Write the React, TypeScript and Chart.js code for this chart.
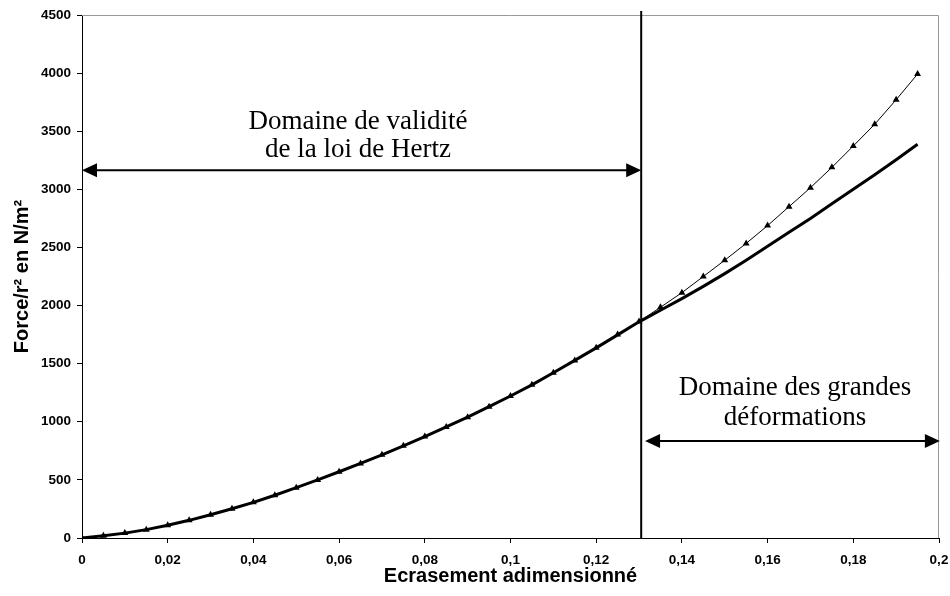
import React, { useEffect, useRef } from 'react';
import { Chart, registerables } from 'chart.js';

Chart.register(...registerables);

// Ecrasement adimensionné (x)
const ecrasement = [
  0, 0.005, 0.01, 0.015, 0.02, 0.025, 0.03, 0.035, 0.04, 0.045,
  0.05, 0.055, 0.06, 0.065, 0.07, 0.075, 0.08, 0.085, 0.09, 0.095,
  0.1, 0.105, 0.11, 0.115, 0.12, 0.125, 0.13, 0.135, 0.14, 0.145,
  0.15, 0.155, 0.16, 0.165, 0.17, 0.175, 0.18, 0.185, 0.19, 0.195,
];

// Série à triangles (loi de Hertz)
const forceHertz = [
  0, 20, 42, 72, 109, 152, 200, 252, 307, 368,
  433, 500, 570, 642, 716, 793, 873, 956, 1040, 1130,
  1222, 1318, 1422, 1528, 1636, 1750, 1862, 1985, 2111, 2250,
  2390, 2535, 2688, 2851, 3014, 3189, 3373, 3560, 3771, 3992,
];

// Série en trait épais (grandes déformations)
const forceGrandesDef = [
  0, 20, 42, 72, 109, 152, 200, 252, 307, 368,
  433, 500, 570, 642, 716, 793, 873, 956, 1040, 1130,
  1222, 1318, 1422, 1528, 1636, 1748, 1860, 1960, 2060, 2165,
  2275, 2390, 2510, 2630, 2750, 2875, 3000, 3125, 3255, 3388,
];

// Annotations (in data units)
const limiteX = 0.1305;
const flecheHertz = [0, 0.1305, 3165]; // x1, x2, y
const flecheGrandes = [0.1314, 0.2002, 835]; // x1, x2, y
const texteHertz = ['Domaine de validité', 'de la loi de Hertz'];
const texteHertzPos = [0.0644, 3579, 3338]; // x, y line1, y line2
const texteGrandes = ['Domaine des grandes', 'déformations'];
const texteGrandesPos = [0.1664, 1291, 1033];

const xTitle = 'Ecrasement adimensionné';
const yTitle = 'Force/r² en N/m²';

function drawArrow(ctx: CanvasRenderingContext2D, x1: number, x2: number, y: number) {
  const len = 15;
  const half = 7;
  ctx.beginPath();
  ctx.moveTo(x1 + len - 2, y);
  ctx.lineTo(x2 - len + 2, y);
  ctx.lineWidth = 2;
  ctx.strokeStyle = '#000';
  ctx.stroke();
  ctx.fillStyle = '#000';
  ctx.beginPath();
  ctx.moveTo(x1, y);
  ctx.lineTo(x1 + len, y - half);
  ctx.lineTo(x1 + len, y + half);
  ctx.closePath();
  ctx.fill();
  ctx.beginPath();
  ctx.moveTo(x2, y);
  ctx.lineTo(x2 - len, y - half);
  ctx.lineTo(x2 - len, y + half);
  ctx.closePath();
  ctx.fill();
}

const annotationPlugin = {
  id: 'annotations',
  beforeDatasetsDraw(chart: any) {
    const { ctx, chartArea } = chart;
    ctx.save();
    ctx.strokeStyle = '#999';
    ctx.lineWidth = 1;
    ctx.beginPath();
    ctx.moveTo(chartArea.left, chartArea.top + 0.5);
    ctx.lineTo(chartArea.right - 0.5, chartArea.top + 0.5);
    ctx.lineTo(chartArea.right - 0.5, chartArea.bottom);
    ctx.stroke();
    ctx.restore();
  },
  afterDatasetsDraw(chart: any) {
    const { ctx, chartArea, scales } = chart;
    const xs = scales.x;
    const ys = scales.y;
    ctx.save();
    const vx = xs.getPixelForValue(limiteX);
    ctx.beginPath();
    ctx.moveTo(vx, chartArea.top - 4);
    ctx.lineTo(vx, chartArea.bottom);
    ctx.lineWidth = 2;
    ctx.strokeStyle = '#000';
    ctx.stroke();
    drawArrow(ctx, xs.getPixelForValue(flecheHertz[0]), xs.getPixelForValue(flecheHertz[1]), ys.getPixelForValue(flecheHertz[2]));
    drawArrow(ctx, xs.getPixelForValue(flecheGrandes[0]), xs.getPixelForValue(flecheGrandes[1]), ys.getPixelForValue(flecheGrandes[2]));
    ctx.fillStyle = '#000';
    ctx.font = '27px "Liberation Serif", "Times New Roman", serif';
    ctx.textAlign = 'center';
    ctx.textBaseline = 'middle';
    ctx.fillText(texteHertz[0], xs.getPixelForValue(texteHertzPos[0]), ys.getPixelForValue(texteHertzPos[1]));
    ctx.fillText(texteHertz[1], xs.getPixelForValue(texteHertzPos[0]), ys.getPixelForValue(texteHertzPos[2]));
    ctx.fillText(texteGrandes[0], xs.getPixelForValue(texteGrandesPos[0]), ys.getPixelForValue(texteGrandesPos[1]));
    ctx.fillText(texteGrandes[1], xs.getPixelForValue(texteGrandesPos[0]), ys.getPixelForValue(texteGrandesPos[2]));
    ctx.restore();
  },
};

export default function App() {
  const canvasRef = useRef<HTMLCanvasElement | null>(null);

  useEffect(() => {
    document.body.style.margin = '0';
    const canvas = canvasRef.current;
    if (!canvas) return;
    const tickFont = { family: '"Liberation Sans", Arial, sans-serif', size: 13.5, weight: 'bold' as const };
    const titleFont = { family: '"Liberation Sans", Arial, sans-serif', size: 20, weight: 'bold' as const };
    const chart = new Chart(canvas, {
      type: 'line',
      data: {
        datasets: [
          {
            label: 'Grandes déformations',
            data: ecrasement.map((x, i) => ({ x, y: forceGrandesDef[i] })),
            borderColor: '#000',
            borderWidth: 3,
            pointRadius: 0,
            fill: false,
            tension: 0,
            order: 1,
          },
          {
            label: 'Loi de Hertz',
            data: ecrasement.map((x, i) => ({ x, y: forceHertz[i] })),
            borderColor: '#000',
            backgroundColor: '#000',
            borderWidth: 1,
            pointStyle: 'triangle',
            pointRadius: 4,
            pointBorderWidth: 0,
            pointBackgroundColor: '#000',
            fill: false,
            tension: 0,
            order: 2,
          },
        ],
      },
      options: {
        animation: false,
        responsive: true,
        maintainAspectRatio: false,
        devicePixelRatio: 1,
        layout: { padding: { top: 15, right: 11, left: 0, bottom: 0 } },
        plugins: {
          legend: { display: false },
          tooltip: { enabled: false },
        },
        scales: {
          x: {
            type: 'linear',
            min: 0,
            max: 0.2,
            ticks: {
              stepSize: 0.02,
              color: '#000',
              font: tickFont,
              padding: 9,
              maxRotation: 0,
              callback: (v: any) => Number(Number(v).toFixed(2)).toString().replace('.', ','),
            },
            grid: { drawOnChartArea: false, drawTicks: true, tickLength: 5, color: '#000' },
            border: { display: true, color: '#000', width: 1 },
            title: { display: true, text: xTitle, color: '#000', font: titleFont, padding: { top: 0, bottom: 8 } },
            afterFit: (scale: any) => {
              scale.height = 58;
              scale.paddingLeft = 0;
              scale.paddingRight = 0;
            },
          },
          y: {
            type: 'linear',
            min: 0,
            max: 4500,
            ticks: {
              stepSize: 500,
              color: '#000',
              font: tickFont,
              padding: 6,
              callback: (v: any) => String(Math.round(Number(v))),
            },
            grid: { drawOnChartArea: false, drawTicks: true, tickLength: 5, color: '#000' },
            border: { display: true, color: '#000', width: 1 },
            title: { display: true, text: yTitle, color: '#000', font: titleFont, padding: { top: 10, bottom: 0 } },
            afterFit: (scale: any) => {
              scale.width = 82;
              scale.paddingTop = 0;
              scale.paddingBottom = 0;
            },
          },
        },
      },
      plugins: [annotationPlugin],
    });
    return () => chart.destroy();
  }, []);

  return (
    <div style={{ position: 'absolute', left: 0, top: 0, width: 950, height: 596, background: '#fff' }}>
      <canvas ref={canvasRef} />
    </div>
  );
}
